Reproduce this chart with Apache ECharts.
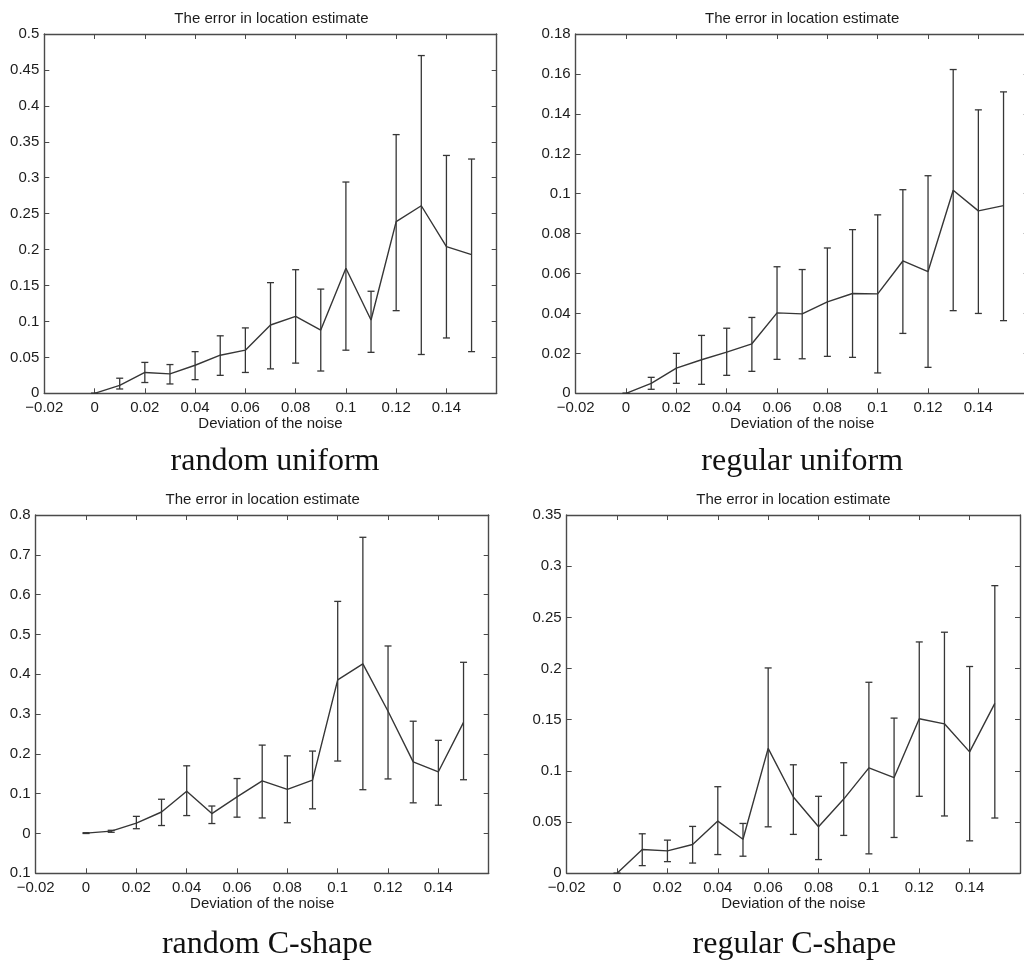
<!DOCTYPE html>
<html>
<head>
<meta charset="utf-8">
<script src="https://cdn.jsdelivr.net/npm/echarts@6/dist/echarts.min.js"></script>
<style>
html,body{margin:0;padding:0;background:#fff;}
#chart{width:1024px;height:961px;}
</style>
</head>
<body>
<div id="chart"></div>
<script>
// ---------- data ----------
const xValues = [0, 0.01, 0.02, 0.03, 0.04, 0.05, 0.06, 0.07, 0.08, 0.09, 0.10, 0.11, 0.12, 0.13, 0.14, 0.15];
const xTickLabels = ['\u22120.02', '0', '0.02', '0.04', '0.06', '0.08', '0.1', '0.12', '0.14', ''];

// random uniform
const ruMean = [0, 0.011, 0.029, 0.027, 0.039, 0.053, 0.060, 0.095, 0.107, 0.088, 0.174, 0.102, 0.239, 0.261, 0.204, 0.193];
const ruLow  = [0, 0.006, 0.015, 0.013, 0.019, 0.025, 0.029, 0.034, 0.042, 0.031, 0.060, 0.057, 0.115, 0.054, 0.077, 0.058];
const ruHigh = [0, 0.021, 0.043, 0.040, 0.058, 0.080, 0.091, 0.154, 0.172, 0.145, 0.294, 0.142, 0.360, 0.470, 0.331, 0.326];
const ruYTicks = ['0', '0.05', '0.1', '0.15', '0.2', '0.25', '0.3', '0.35', '0.4', '0.45', '0.5'];

// regular uniform
const rgMean = [0, 0.005, 0.0126, 0.0168, 0.0206, 0.0248, 0.0403, 0.0398, 0.0458, 0.0500, 0.0498, 0.0663, 0.0610, 0.1017, 0.0914, 0.0940];
const rgLow  = [0, 0.002, 0.005, 0.0045, 0.009, 0.011, 0.017, 0.0173, 0.0185, 0.018, 0.0102, 0.030, 0.013, 0.0414, 0.040, 0.0364];
const rgHigh = [0, 0.008, 0.020, 0.029, 0.0326, 0.038, 0.0634, 0.062, 0.0728, 0.082, 0.0894, 0.102, 0.109, 0.1622, 0.142, 0.151];
const rgYTicks = ['0', '0.02', '0.04', '0.06', '0.08', '0.1', '0.12', '0.14', '0.16', '0.18'];

// random C-shape
const rcMean = [0.001, 0.006, 0.026, 0.054, 0.106, 0.050, 0.092, 0.132, 0.111, 0.134, 0.386, 0.426, 0.307, 0.180, 0.155, 0.279];
const rcLow  = [0, 0.003, 0.012, 0.020, 0.045, 0.025, 0.041, 0.039, 0.027, 0.062, 0.182, 0.110, 0.137, 0.077, 0.071, 0.135];
const rcHigh = [0.002, 0.008, 0.043, 0.086, 0.170, 0.069, 0.138, 0.222, 0.195, 0.207, 0.583, 0.744, 0.471, 0.282, 0.234, 0.430];
const rcYTicks = ['0.1', '0', '0.1', '0.2', '0.3', '0.4', '0.5', '0.6', '0.7', '0.8'];

// regular C-shape
const rsMean = [0, 0.0232, 0.0219, 0.0281, 0.051, 0.0333, 0.122, 0.0745, 0.0454, 0.0725, 0.103, 0.0935, 0.151, 0.146, 0.1186, 0.166];
const rsLow  = [0, 0.0075, 0.0114, 0.010, 0.0183, 0.0167, 0.0454, 0.038, 0.0134, 0.037, 0.019, 0.035, 0.0752, 0.056, 0.0317, 0.054];
const rsHigh = [0, 0.0386, 0.0324, 0.0458, 0.0846, 0.0487, 0.2006, 0.106, 0.0752, 0.108, 0.1866, 0.1516, 0.226, 0.2355, 0.202, 0.281];
const rsYTicks = ['0', '0.05', '0.1', '0.15', '0.2', '0.25', '0.3', '0.35'];

const panelTitle = 'The error in location estimate';
const xAxisName = 'Deviation of the noise';
const captions = ['random uniform', 'regular uniform', 'random C-shape', 'regular C-shape'];

// ---------- layout ----------
const panels = [
  {mean: ruMean, low: ruLow, high: ruHigh, yTicks: ruYTicks, ymin: 0, ymax: 0.5, yint: 0.05,
   left: 44.3, top: 34, width: 452.4, height: 359.3, titleDx: 1, capDx: 4.5, capDy: 68},
  {mean: rgMean, low: rgLow, high: rgHigh, yTicks: rgYTicks, ymin: 0, ymax: 0.18, yint: 0.02,
   left: 575.7, top: 34, width: 453, height: 359.3, titleDx: 0, capDx: 0, capDy: 68},
  {mean: rcMean, low: rcLow, high: rcHigh, yTicks: rcYTicks, ymin: -0.1, ymax: 0.8, yint: 0.1,
   left: 35.7, top: 515, width: 453, height: 358.3, titleDx: 0.5, capDx: 5, capDy: 71},
  {mean: rsMean, low: rsLow, high: rsHigh, yTicks: rsYTicks, ymin: 0, ymax: 0.35, yint: 0.05,
   left: 566.7, top: 515, width: 453.3, height: 358.3, titleDx: 0, capDx: 1, capDy: 71}
];

const INK = '#363636';
const AXIS = '#4a4a4a';
const TXT = '#1c1c1c';
const SANS = '"Liberation Sans", Arial, Helvetica, sans-serif';
const SERIF = '"Liberation Serif", "Times New Roman", serif';

const grids = [], xAxes = [], yAxes = [], series = [], graphics = [];

panels.forEach((p, i) => {
  grids.push({left: p.left, top: p.top, width: p.width, height: p.height,
    containLabel: false, outerBoundsMode: 'none'});
  const xmin = -0.02, xmax = 0.16, xint = 0.02;
  const xFmt = v => { const k = Math.round((v - xmin) / xint); return xTickLabels[k] !== undefined ? xTickLabels[k] : ''; };
  const yFmt = v => { const k = Math.round((v - p.ymin) / p.yint); return p.yTicks[k] !== undefined ? p.yTicks[k] : ''; };
  const common = {
    gridIndex: i, type: 'value',
    axisLine: {show: true, onZero: false, lineStyle: {color: AXIS, width: 1.4}},
    axisTick: {show: true, inside: true, length: 5, lineStyle: {color: AXIS, width: 1}},
    splitLine: {show: false}
  };
  xAxes.push(Object.assign({}, common, {
    position: 'bottom', min: xmin, max: xmax, interval: xint,
    axisLabel: {show: true, formatter: xFmt, margin: 7, color: TXT, fontSize: 15, fontFamily: SANS, showMaxLabel: true},
    name: xAxisName, nameLocation: 'middle', nameGap: 22,
    nameTextStyle: {color: TXT, fontSize: 15, fontFamily: SANS}
  }));
  xAxes.push(Object.assign({}, common, {
    position: 'top', min: xmin, max: xmax, interval: xint,
    axisLabel: {show: false}
  }));
  yAxes.push(Object.assign({}, common, {
    position: 'left', min: p.ymin, max: p.ymax, interval: p.yint,
    axisLabel: {show: true, formatter: yFmt, margin: 5, color: TXT, fontSize: 15, fontFamily: SANS}
  }));
  yAxes.push(Object.assign({}, common, {
    position: 'right', min: p.ymin, max: p.ymax, interval: p.yint,
    axisLabel: {show: false}
  }));

  const pts = xValues.map((x, k) => [x, p.mean[k]]);
  series.push({
    type: 'line', xAxisIndex: 2 * i, yAxisIndex: 2 * i, data: pts,
    symbol: 'none', lineStyle: {color: INK, width: 1.4}, silent: true, animation: false, z: 3
  });
  const bars = xValues.map((x, k) => [x, p.low[k], p.high[k]]);
  series.push({
    type: 'custom', xAxisIndex: 2 * i, yAxisIndex: 2 * i, data: bars,
    encode: {x: 0, y: [1, 2]}, silent: true, animation: false, z: 2,
    renderItem: (params, api) => {
      const x = api.value(0);
      const lo = api.coord([x, api.value(1)]);
      const hi = api.coord([x, api.value(2)]);
      const hw = 3.5;
      const st = {stroke: INK, lineWidth: 1.3, fill: null};
      return {type: 'group', children: [
        {type: 'line', shape: {x1: lo[0], y1: lo[1], x2: hi[0], y2: hi[1]}, style: st},
        {type: 'line', shape: {x1: lo[0] - hw, y1: lo[1], x2: lo[0] + hw, y2: lo[1]}, style: st},
        {type: 'line', shape: {x1: hi[0] - hw, y1: hi[1], x2: hi[0] + hw, y2: hi[1]}, style: st}
      ]};
    }
  });

  // panel title
  graphics.push({
    type: 'text', silent: true,
    style: {x: p.left + p.width / 2 + p.titleDx, y: p.top - 15.5, text: panelTitle,
      textAlign: 'center', align: 'center', textVerticalAlign: 'middle', verticalAlign: 'middle',
      font: '15px ' + SANS, fill: TXT}
  });
  // caption below
  graphics.push({
    type: 'text', silent: true,
    style: {x: p.left + p.width / 2 + p.capDx, y: p.top + p.height + p.capDy, text: captions[i],
      textAlign: 'center', align: 'center', textVerticalAlign: 'middle', verticalAlign: 'middle',
      font: '32px ' + SERIF, fill: '#111'}
  });
});

const chart = echarts.init(document.getElementById('chart'), null, {renderer: 'canvas'});
chart.setOption({
  animation: false,
  backgroundColor: '#ffffff',
  grid: grids,
  xAxis: xAxes,
  yAxis: yAxes,
  series: series,
  graphic: graphics
});
</script>
</body>
</html>
